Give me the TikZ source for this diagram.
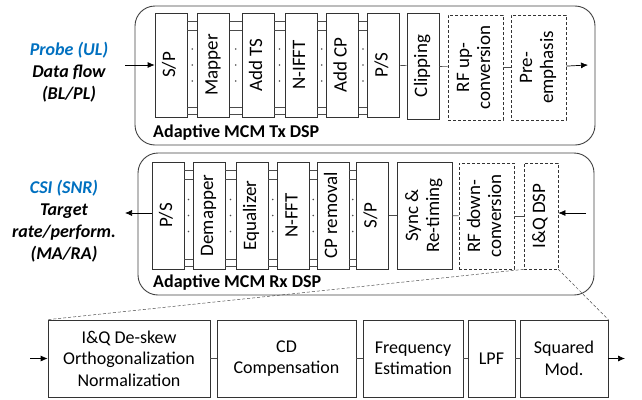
\documentclass[tikz,border=0pt]{standalone}
\usepackage{fontspec}
\setmainfont{Carlito}
\usetikzlibrary{calc,arrows.meta}
\definecolor{probeblue}{RGB}{0,112,192}

\tikzset{
  outerbox/.style={draw=black!75, line width=0.9pt, rounded corners=20},
  blk/.style={draw=black!80, line width=0.7pt, inner sep=0pt, fill=white,
    font=\fontsize{19}{21}\selectfont},
  dblk/.style={blk, densely dashed},
  hblk/.style={blk, align=center, font=\fontsize{18}{21.5}\selectfont},
  link/.style={draw=black!70, line width=0.6pt},
  arr/.style={-{Latex[length=7pt,width=6pt]}, line width=0.7pt},
  sidelabel/.style={align=center, font=\fontsize{18}{22}\selectfont\bfseries\itshape},
  boxtitle/.style={anchor=west, inner sep=0pt, font=\fontsize{18}{20}\selectfont\bfseries},
}
\newcommand{\vtxt}[1]{\rotatebox{90}{\begin{tabular}{@{}c@{}}#1\end{tabular}}}
% parallel bus between two neighbouring blocks
\newcommand{\parlink}[2]{%
  \draw[link] ($(#1.north east)+(0,9)$) -- ($(#2.north west)+(0,9)$);
  \draw[link] ($(#1.north east)+(0,18)$) -- ($(#2.north west)+(0,18)$);
  \draw[link] ($(#1.south east)+(0,-10)$) -- ($(#2.south west)+(0,-10)$);
  \draw[link] ($(#1.south east)+(0,-3)$) -- ($(#2.south west)+(0,-3)$);
  \foreach \dy in {-16,0,16}
    \fill[black!70] ($(#1.east)!0.5!(#2.west)+(0,\dy)$) circle[radius=0.9pt];
}

\begin{document}
\begin{tikzpicture}[x=1pt, y=-1pt]
    \useasboundingbox (0,0) rectangle (642,399);

    % Tx chain
    \node[outerbox, minimum width=460, minimum height=139] (txbox) at (365,75.5) {};
    \node[blk, minimum width=32, minimum height=104] (tx-sp)   at (171,65)   {\vtxt{S/P}};
    \node[blk, minimum width=32, minimum height=104] (tx-map)  at (213.5,65) {\vtxt{Mapper}};
    \node[blk, minimum width=32, minimum height=104] (tx-ts)   at (258,65)   {\vtxt{Add TS}};
    \node[blk, minimum width=32, minimum height=104] (tx-ifft) at (301,65)   {\vtxt{N-IFFT}};
    \node[blk, minimum width=32, minimum height=104] (tx-cp)   at (342.5,65) {\vtxt{Add CP}};
    \node[blk, minimum width=32, minimum height=104] (tx-ps)   at (383.5,65) {\vtxt{P/S}};
    \node[blk, minimum width=32, minimum height=106] (tx-clip) at (423,66)   {\vtxt{Clipping}};
    \node[dblk, minimum width=55, minimum height=105] (tx-rf)  at (475.5,67.5) {\vtxt{RF up-\\conversion}};
    \node[dblk, minimum width=55, minimum height=105] (tx-pre) at (538.5,67.5) {\vtxt{Pre-\\emphasis}};
    \node[boxtitle] (tx-title) at (153,133) {Adaptive MCM Tx DSP};

    \parlink{tx-sp}{tx-map}
    \parlink{tx-map}{tx-ts}
    \parlink{tx-ts}{tx-ifft}
    \parlink{tx-ifft}{tx-cp}
    \parlink{tx-cp}{tx-ps}
    \draw[link] (tx-ps) -- (tx-clip);
    \draw[link] (tx-clip) -- (tx-rf);
    \draw[link] (tx-rf) -- (tx-pre);

    \coordinate (tx-in) at (125,65);
    \coordinate (tx-out) at (588,65);
    \draw[arr] (tx-in) -- (tx-sp);
    \draw[arr] (tx-pre) -- (tx-out);

    \node[sidelabel] (tx-label) at (69,72)
      {\textcolor{probeblue}{Probe (UL)}\\Data flow\\(BL/PL)};

    % Rx chain
    \node[outerbox, minimum width=456, minimum height=142] (rxbox) at (366,224) {};
    \node[blk, minimum width=32, minimum height=107] (rx-ps)    at (168,215.5)   {\vtxt{P/S}};
    \node[blk, minimum width=32, minimum height=107] (rx-demap) at (209,215.5)   {\vtxt{Demapper}};
    \node[blk, minimum width=32, minimum height=107] (rx-eq)    at (252,215.5)   {\vtxt{Equalizer}};
    \node[blk, minimum width=32, minimum height=107] (rx-fft)   at (293.5,215.5) {\vtxt{N-FFT}};
    \node[blk, minimum width=32, minimum height=107] (rx-cp)    at (333,215.5)   {\vtxt{CP removal}};
    \node[blk, minimum width=32, minimum height=107] (rx-sp)    at (372.5,215.5) {\vtxt{S/P}};
    \node[blk, minimum width=55, minimum height=107] (rx-sync)  at (424.5,215.5) {\vtxt{Sync \&\\Re-timing}};
    \node[dblk, minimum width=55, minimum height=106] (rx-rf)   at (486.5,216)   {\vtxt{RF down-\\conversion}};
    \node[dblk, minimum width=34, minimum height=106] (rx-iq)   at (541,216)     {\vtxt{I\&Q DSP}};
    \node[boxtitle] (rx-title) at (153,283) {Adaptive MCM Rx DSP};

    \parlink{rx-ps}{rx-demap}
    \parlink{rx-demap}{rx-eq}
    \parlink{rx-eq}{rx-fft}
    \parlink{rx-fft}{rx-cp}
    \parlink{rx-cp}{rx-sp}
    \draw[link] (rx-sp) -- (rx-sync);
    \draw[link] (rx-sync) -- (rx-rf);
    \draw[link] (rx-rf) -- (rx-iq);

    \coordinate (rx-out) at (125,213);
    \coordinate (rx-in) at (586,213);
    \draw[arr] (rx-ps.west |- rx-out) -- (rx-out);
    \draw[arr] (rx-in) -- (rx-iq.east |- rx-in);

    \node[sidelabel] (rx-label) at (64,221)
      {\textcolor{probeblue}{CSI (SNR)}\\Target\\rate/perform.\\(MA/RA)};

    % I&Q DSP detail
    \node[hblk, minimum width=162, minimum height=77] (iq-deskew) at (129,358.5)
      {I\&Q De-skew\\Orthogonalization\\Normalization};
    \node[hblk, minimum width=139, minimum height=77] (iq-cd)   at (286.5,358.5) {CD\\Compensation};
    \node[hblk, minimum width=100, minimum height=77] (iq-freq) at (413,358.5)   {Frequency\\Estimation};
    \node[hblk, minimum width=47,  minimum height=77] (iq-lpf)  at (491.5,358.5) {LPF};
    \node[hblk, minimum width=88,  minimum height=77] (iq-sqr)  at (564,358.5)   {Squared\\Mod.};

    \draw[link] (iq-deskew) -- (iq-cd);
    \draw[link] (iq-cd) -- (iq-freq);
    \draw[link] (iq-freq) -- (iq-lpf);
    \draw[link] (iq-lpf) -- (iq-sqr);

    \coordinate (iq-in) at (30,358.5);
    \coordinate (iq-out) at (625,358.5);
    \draw[arr] (iq-in) -- (iq-deskew);
    \draw[arr] (iq-sqr) -- (iq-out);

    % zoom lines
    \draw[black!70, densely dashed, line width=0.5pt] (rx-iq.south west) -- (iq-deskew.north west);
    \draw[black!70, densely dashed, line width=0.5pt] (rx-iq.south east) -- (iq-sqr.north east);
\end{tikzpicture}
\end{document}
